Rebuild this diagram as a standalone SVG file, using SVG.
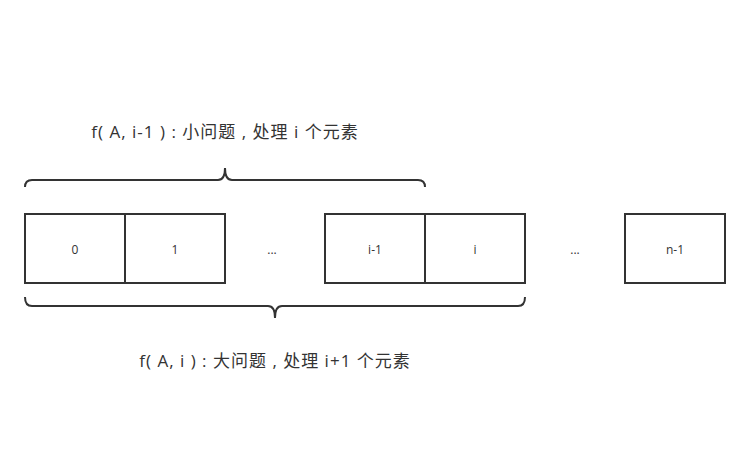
<svg xmlns="http://www.w3.org/2000/svg" width="750" height="472" viewBox="0 0 750 472">
<style>
.box{fill:#fff;stroke:#333;stroke-width:2}
.t{font-family:"Open Sans","Noto Sans CJK SC",sans-serif;font-size:12px;fill:#333;text-anchor:middle}
.lbl{font-family:"Open Sans","Noto Sans CJK SC",sans-serif;font-size:17px;letter-spacing:1px;fill:#333;text-anchor:middle}
.brace{fill:none;stroke:#333;stroke-width:2}
</style>
<rect width="750" height="472" fill="#fff"/>
<g id="n0"><rect class="box" x="25" y="214" width="100" height="69"/><text class="t" x="75" y="254">0</text></g>
<g id="n1"><rect class="box" x="125" y="214" width="100" height="69"/><text class="t" x="175" y="254">1</text></g>
<g id="dots1"><text class="t" x="272" y="254">...</text></g>
<g id="ni1"><rect class="box" x="325" y="214" width="100" height="69"/><text class="t" x="375" y="254">i-1</text></g>
<g id="ni"><rect class="box" x="425" y="214" width="100" height="69"/><text class="t" x="475" y="254">i</text></g>
<g id="dots2"><text class="t" x="575" y="254">...</text></g>
<g id="nn"><rect class="box" x="625" y="214" width="100" height="69"/><text class="t" x="675" y="254">n-1</text></g>
<g id="connectors">
<path class="brace" d="M25,187 Q25,180 32,180 L218,180 Q225,180 225,168 Q225,180 232,180 L418,180 Q425,180 425,187"/>
<path class="brace" d="M25,297 Q25,306 32,306 L268,306 Q275,306 275,318 Q275,306 282,306 L518,306 Q525,306 525,297"/>
</g>
<g id="label-top"><text class="lbl" x="225" y="138">f( A, i-1 ) : 小问题 , 处理 i 个元素</text></g>
<g id="label-bottom"><text class="lbl" x="275" y="367">f( A, i ) : 大问题 , 处理 i+1 个元素</text></g>
</svg>
